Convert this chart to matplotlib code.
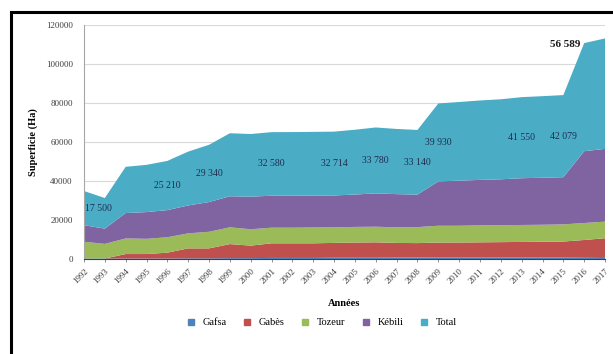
import numpy as np
import matplotlib.pyplot as plt
from matplotlib.lines import Line2D
from matplotlib.patches import Rectangle

plt.rcParams['font.family'] = ['Liberation Serif', 'DejaVu Serif']

years = list(range(1992, 2018))
gafsa = [400, 400, 400, 400, 400, 500, 500, 600, 600, 700, 700, 700, 800,
         800, 800, 900, 900, 1000, 1000, 1000, 1000, 1000, 1000, 1000, 1100, 1200]
gabes = [0, 0, 2300, 2300, 3000, 5100, 5100, 7200, 6400, 7500, 7500, 7500, 7600,
         7800, 7900, 7500, 7400, 7600, 7600, 7700, 7800, 7900, 8000, 8100, 8800, 9600]
tozeur = [8600, 7500, 8000, 7800, 7900, 7700, 8500, 8600, 8400, 8000, 8000, 8100, 8000,
          8000, 8000, 8000, 8200, 8600, 8600, 8700, 8700, 8700, 8700, 8800, 8700, 8500]
total = [17500, 15700, 23700, 24200, 25210, 27600, 29340, 32300, 32100, 32580, 32600,
         32650, 32714, 33200, 33780, 33400, 33140, 39930, 40300, 40700, 41000, 41550,
         41800, 42079, 55400, 56589]
# Kébili is whatever remains of the total
kebili = [t - a - b - c for t, a, b, c in zip(total, gafsa, gabes, tozeur)]

labelled_years = [1992, 1996, 1998, 2001, 2004, 2006, 2008, 2009, 2013, 2015]
series_names = ['Gafsa', 'Gabès', 'Tozeur', 'Kébili', 'Total']
colors = ['#4F81BD', '#C0504D', '#9BBB59', '#8064A2', '#4BACC6']


def fmt(v):
    return f'{v // 1000} {v % 1000:03d}'


fig = plt.figure(figsize=(6.13, 3.54), dpi=100)
ax = fig.add_axes([0.137, 0.2675, 0.850, 0.6615])

ax.stackplot(years, gafsa, gabes, tozeur, kebili, total, colors=colors, zorder=2)

ax.set_xlim(1992, 2017)
ax.set_ylim(0, 120000)
ax.set_yticks(np.arange(0, 120001, 20000))
ax.grid(axis='y', color='#d9d9d9', linewidth=0.8, zorder=0)
ax.set_axisbelow(True)
for s in ['top', 'right']:
    ax.spines[s].set_visible(False)
ax.spines['left'].set_color('#a6a6a6')
ax.spines['bottom'].set_color('#404040')

ax.set_xticks(years)
ax.set_xticklabels([str(y) for y in years], rotation=45, ha='right',
                   rotation_mode='anchor', fontsize=6.5, color='#404040')
ax.tick_params(axis='x', length=2.5, width=0.6, color='#808080', pad=3)
ax.tick_params(axis='y', length=0, labelsize=6.5, labelcolor='#404040', pad=8)

ax.set_xlabel('Années', fontsize=7.5, fontweight='bold', labelpad=10)
ax.set_ylabel('Superficie (Ha)', fontsize=7.5, fontweight='bold', labelpad=6)

# data labels sit in the middle of the Total band
for y in labelled_years:
    i = years.index(y)
    v = total[i]
    xpos = y + 0.7 if y == 1992 else y
    ax.text(xpos, 1.5 * v, fmt(v), ha='center', va='center',
            fontsize=7, color='#1f2d4d', zorder=3)

ax.text(2015.1, 110000, fmt(total[-1]), ha='center', va='center',
        fontsize=8, fontweight='bold', color='#1a1a1a', zorder=3)

handles = [Line2D([], [], marker='s', linestyle='none', markersize=4,
                  markerfacecolor=c, markeredgecolor=c) for c in colors]
fig.legend(handles, series_names, loc='center', bbox_to_anchor=(0.520, 0.088),
           ncol=5, frameon=False, fontsize=7.5, handletextpad=0.1, columnspacing=1.0)

fig.patches.append(Rectangle((0.018, -0.05), 1.1, 1.016, transform=fig.transFigure,
                             fill=False, edgecolor='black', linewidth=2.2))

fig.savefig('out.png', dpi=100)
